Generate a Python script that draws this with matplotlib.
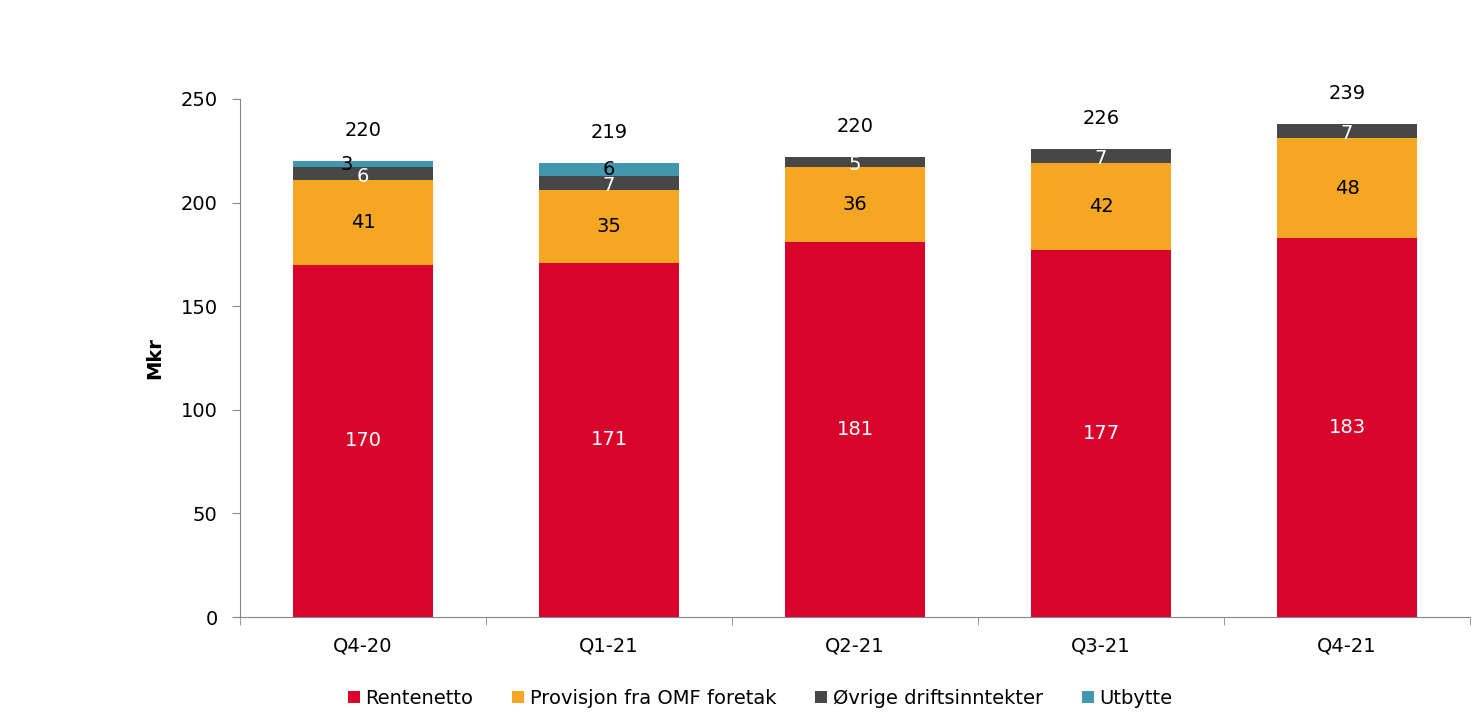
import matplotlib as mpl
import matplotlib.pyplot as plt
import numpy as np

quarters = ["Q4-20", "Q1-21", "Q2-21", "Q3-21", "Q4-21"]
rentenetto = [170, 171, 181, 177, 183]
provisjon = [41, 35, 36, 42, 48]
ovrige = [6, 7, 5, 7, 7]
utbytte = [3, 6, 0, 0, 0]
totals = [220, 219, 220, 226, 239]

series = [
    ("Rentenetto", rentenetto, "#D9042B", "white"),
    ("Provisjon fra OMF foretak", provisjon, "#F5A623", "black"),
    ("Øvrige driftsinntekter", ovrige, "#474747", "white"),
    ("Utbytte", utbytte, "#4297AE", "black"),
]

mpl.rcParams.update({
    "font.family": ["DejaVu Sans"],
    "font.size": 14,
})

fig = plt.figure(figsize=(14.84, 7.21), dpi=100)
ax = fig.add_axes([0.1617, 0.1442, 0.8289, 0.7185])

x = np.arange(len(quarters))
bottom = np.zeros(len(quarters))
for name, values, color, text_color in series:
    vals = np.array(values, dtype=float)
    ax.bar(x, vals, bottom=bottom, width=0.57, color=color, label=name)
    for xi, v, b in zip(x, vals, bottom):
        if v <= 0:
            continue
        # thin segments: nudge labels a little so stacked numbers stay readable
        dx = -12 if v < 4 else 0
        dy = -2 if v < 10 and text_color == "white" else 0
        ax.annotate(f"{v:.0f}", (xi, b + v / 2), xytext=(dx, dy),
                    textcoords="offset points", ha="center", va="center",
                    color=text_color, fontsize=14)
    bottom += vals

for xi, top, total in zip(x, bottom, totals):
    ax.annotate(f"{total}", (xi, top), xytext=(0, 22), textcoords="offset points",
                ha="center", va="center", fontsize=14)

ax.set_xlim(-0.5, len(quarters) - 0.5)
ax.set_ylim(0, 250)
ax.set_yticks(np.arange(0, 251, 50))
ax.set_xticks(x, quarters)
ax.set_xticks(np.arange(-0.5, len(quarters), 1), minor=True)
ax.tick_params(axis="x", which="major", length=0, pad=14)
ax.tick_params(axis="x", which="minor", length=6, color="#888888")
ax.tick_params(axis="y", length=6, color="#888888", pad=10)
ax.set_ylabel("Mkr", fontweight="bold", labelpad=12)
for side in ["top", "right"]:
    ax.spines[side].set_visible(False)
for side in ["left", "bottom"]:
    ax.spines[side].set_color("#888888")

ax.legend(loc="upper center", bbox_to_anchor=(0.423, -0.105), ncol=4, frameon=False,
          handlelength=0.6, handleheight=0.6, handletextpad=0.3, columnspacing=2.0,
          fontsize=14)

fig.savefig("out.png", dpi=100)
